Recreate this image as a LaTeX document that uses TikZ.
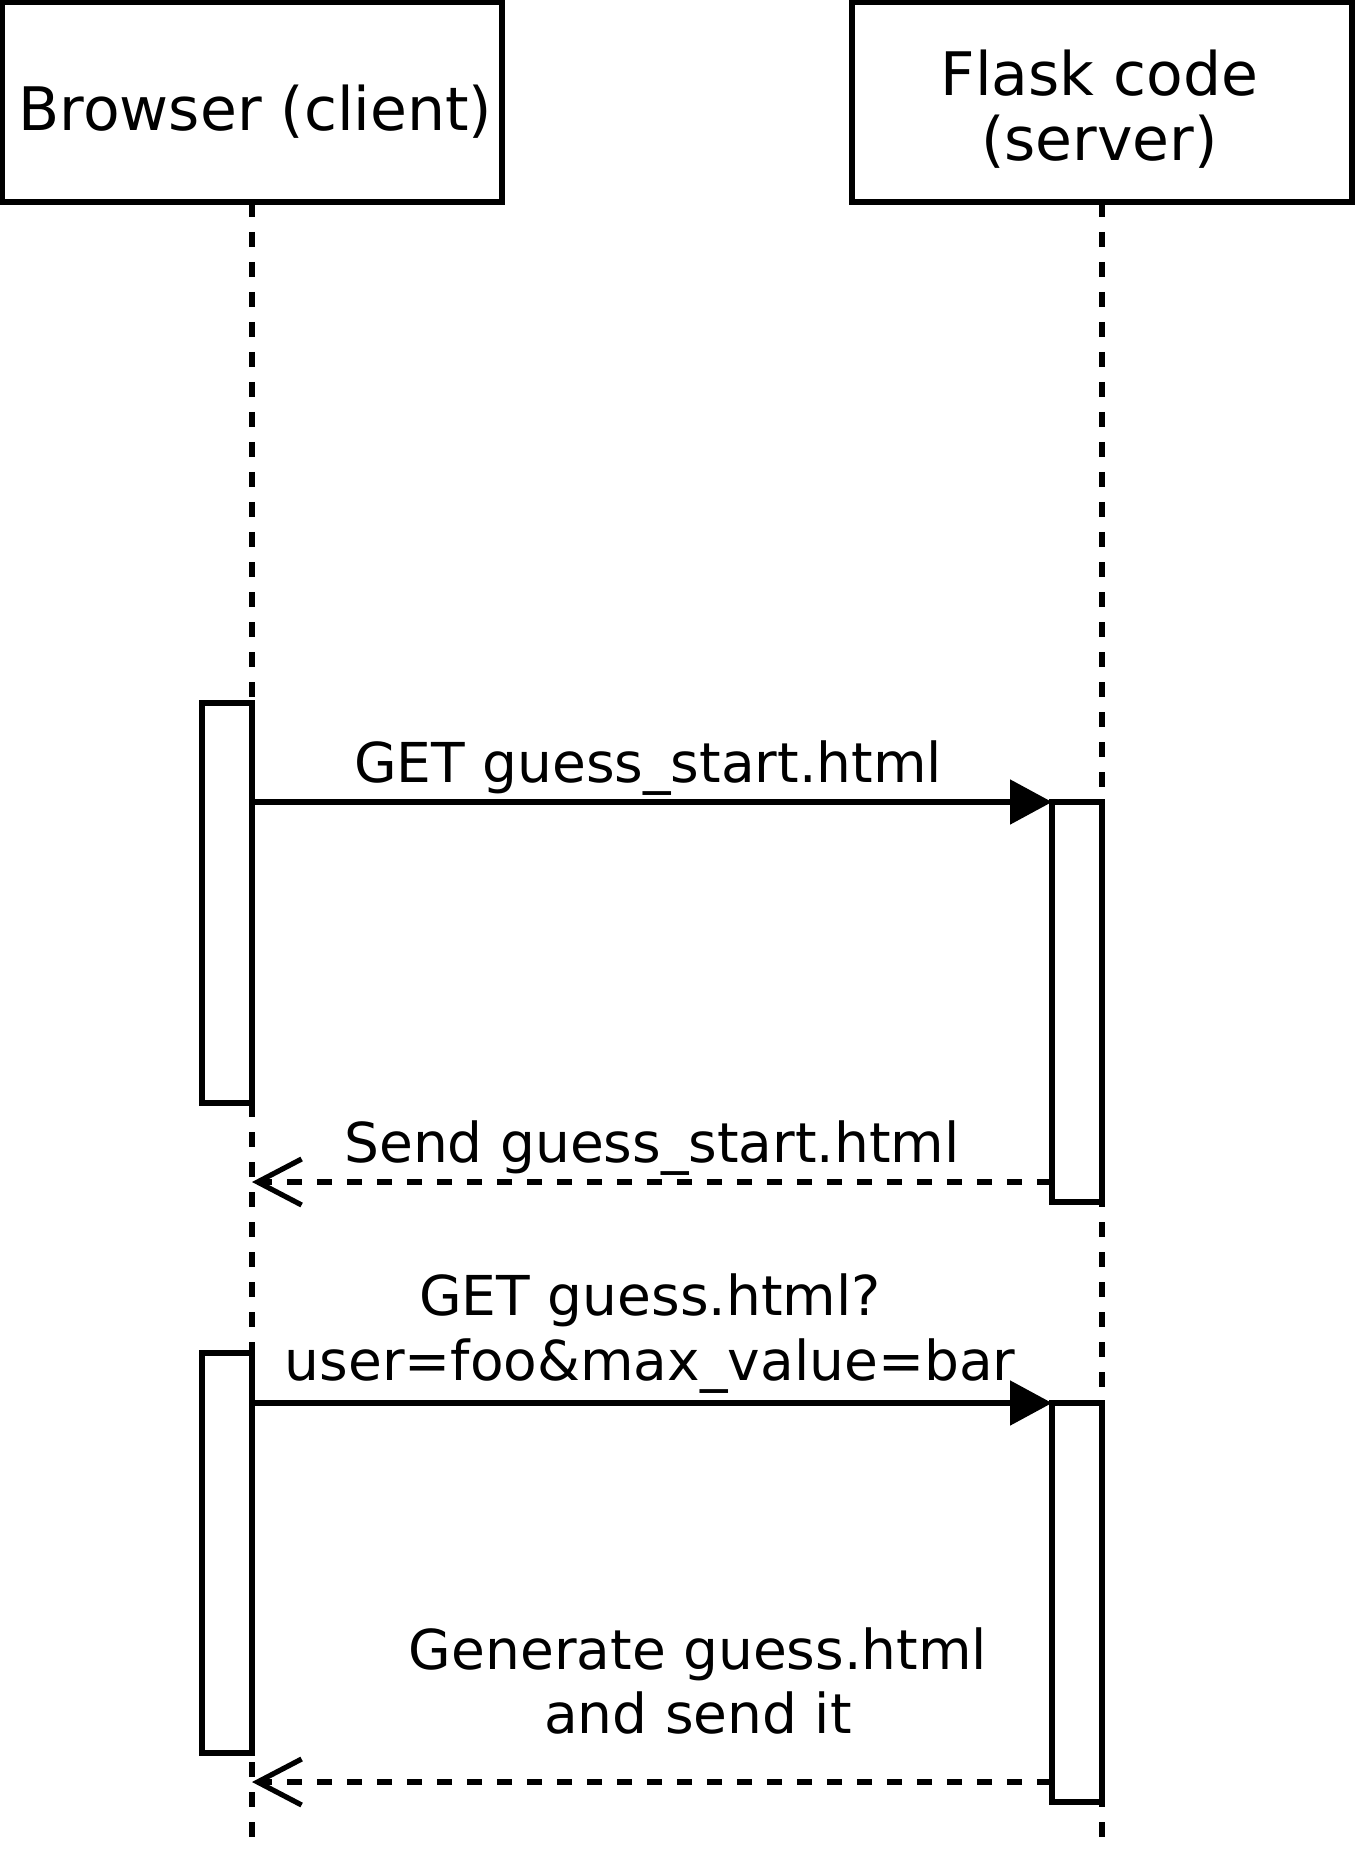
\documentclass[tikz,border=0pt]{standalone}
\usepackage{fontspec}
\setmainfont{DejaVu Sans}
\usetikzlibrary{arrows.meta}
\tikzset{
  headbox/.style={draw, line width=2.6pt, fill=white, minimum width=250pt, minimum height=100pt, inner sep=0pt, outer sep=0pt},
  headtxt/.style={font=\fontsize{30}{36}\selectfont, inner sep=0pt, anchor=base},
  msgtxt/.style={font=\fontsize{27.5}{33}\selectfont, inner sep=0pt, anchor=base},
  lifeline/.style={line width=2.6pt, dash pattern=on 7.5pt off 7.5pt},
  actbox/.style={draw, line width=2.6pt, fill=white, minimum width=25pt, minimum height=200pt, inner sep=0pt, outer sep=0pt},
  callmsg/.style={line width=2.6pt, -{Triangle[length=21pt,width=22pt]}},
  retmsg/.style={line width=2.6pt, dash pattern=on 7.5pt off 7.5pt, -{Straight Barb[length=22pt,width=23pt]}}
}
\begin{document}
\begin{tikzpicture}[x=0.5pt,y=-0.5pt]
\useasboundingbox (0,0) rectangle (1355,1855);
% heads
\node[headbox] (browser) at (252,102) {};
\node[headbox] (flask) at (1102,102) {};
\node[headtxt] (browserlbl) at (255.5,131) {Browser (client)};
\node[headtxt] (flasklbl1) at (1099.5,96) {Flask code};
\node[headtxt] (flasklbl2) at (1099.5,161) {(server)};
% lifelines
\coordinate (bend) at (252,1838);
\coordinate (fend) at (1102,1838);
\draw[lifeline] (browser.south) -- (bend);
\draw[lifeline] (flask.south) -- (fend);
% activations
\node[actbox] (ca) at (227,903) {};
\node[actbox] (sa) at (1077,1002) {};
\node[actbox] (cb) at (227,1553) {};
\node[actbox, minimum height=199.5pt] (sb) at (1077,1602.5) {};
% messages
\draw[callmsg] (sa.north west -| ca.east) -- (sa.north west);
\node[msgtxt] (m1) at (648,782) {GET guess\_start.html};
\coordinate (r1) at (1052,1182);
\draw[retmsg] (r1) -- (r1 -| ca.east);
\node[msgtxt] (m2) at (652,1162) {Send guess\_start.html};
\draw[callmsg] (sb.north west -| cb.east) -- (sb.north west);
\node[msgtxt] (m3a) at (650,1315) {GET guess.html?};
\node[msgtxt] (m3b) at (650,1380) {user=foo\&max\_value=bar};
\coordinate (r2) at (1052,1782);
\draw[retmsg] (r2) -- (r2 -| cb.east);
\node[msgtxt] (m4a) at (698,1669) {Generate guess.html};
\node[msgtxt] (m4b) at (698,1733) {and send it};
\end{tikzpicture}
\end{document}
